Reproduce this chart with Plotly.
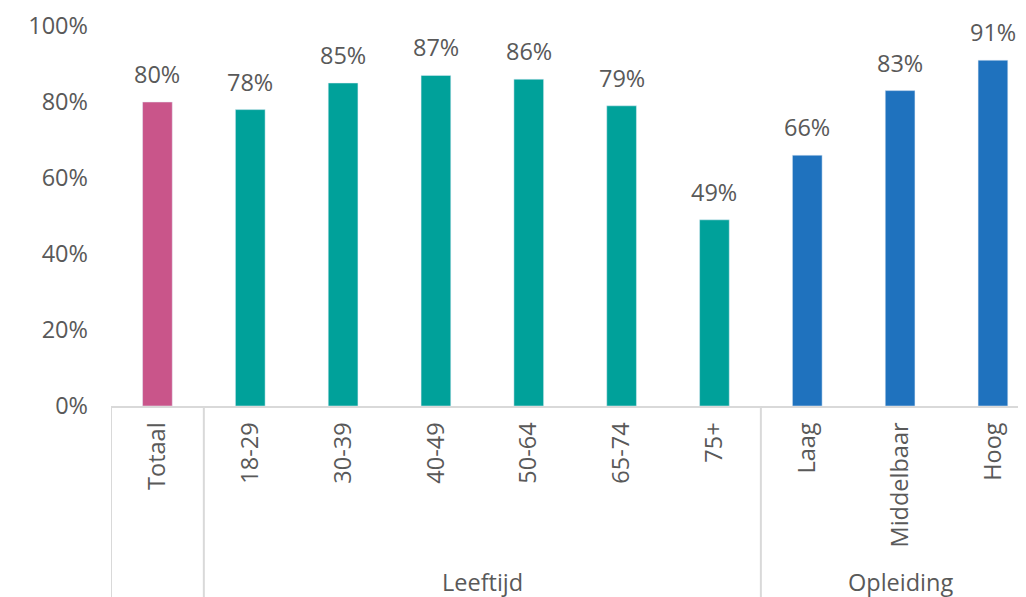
import plotly.graph_objects as go

categories = ["Totaal", "18-29", "30-39", "40-49", "50-64", "65-74", "75+", "Laag", "Middelbaar", "Hoog"]
values = [0.80, 0.78, 0.85, 0.87, 0.86, 0.79, 0.49, 0.66, 0.83, 0.91]
groups = ["", "Leeftijd", "Leeftijd", "Leeftijd", "Leeftijd", "Leeftijd", "Leeftijd",
          "Opleiding", "Opleiding", "Opleiding"]
group_colors = {"": "#C9558A", "Leeftijd": "#00A19A", "Opleiding": "#1F72BE"}
y_ticks = [0, 0.2, 0.4, 0.6, 0.8, 1.0]

FONT = "Open Sans"
FS = 23.5
TXT = "#595959"
LINE = "#D9D9D9"

fig = go.Figure()
fig.add_trace(go.Bar(
    x=list(range(len(categories))),
    y=values,
    marker_color=[group_colors[g] for g in groups],
    width=0.32,
    hoverinfo="skip",
))

# data labels above the bars
for i, v in enumerate(values):
    fig.add_annotation(x=i, y=v, text=f"{round(v * 100)}%", showarrow=False,
                       yanchor="bottom", yshift=10, font=dict(family=FONT, size=FS, color=TXT))

# group separators and group titles
bounds = [-0.5]
for i in range(1, len(groups)):
    if groups[i] != groups[i - 1]:
        bounds.append(i - 0.5)
bounds.append(len(groups) - 0.5)
for b in bounds[:-1]:
    fig.add_shape(type="line", xref="x", yref="paper", x0=b, x1=b, y0=0, y1=-0.6,
                  line=dict(color=LINE, width=2))
for a, b in zip(bounds[:-1], bounds[1:]):
    name = groups[int(a + 0.5)]
    if name:
        fig.add_annotation(x=(a + b) / 2, xref="x", y=-0.462, yref="paper", text=name,
                           showarrow=False, yanchor="middle",
                           font=dict(family=FONT, size=FS, color=TXT))

fig.update_layout(
    width=1010, height=589,
    margin=dict(l=103, r=0, t=18, b=191),
    plot_bgcolor="white", paper_bgcolor="white",
    showlegend=False,
    font=dict(family=FONT, size=FS, color=TXT),
    xaxis=dict(
        tickmode="array", tickvals=list(range(len(categories))), ticktext=categories,
        tickangle=-90, range=[-0.5, 9.27], showgrid=False, showline=True,
        linecolor=LINE, linewidth=2, ticks="", zeroline=False, ticklabelstandoff=5,
    ),
    yaxis=dict(
        range=[0, 1.0], tickvals=y_ticks, tickformat=".0%", showgrid=False,
        showline=False, zeroline=False, ticks="", ticklabelstandoff=22,
    ),
)

fig.write_html("out.html")
